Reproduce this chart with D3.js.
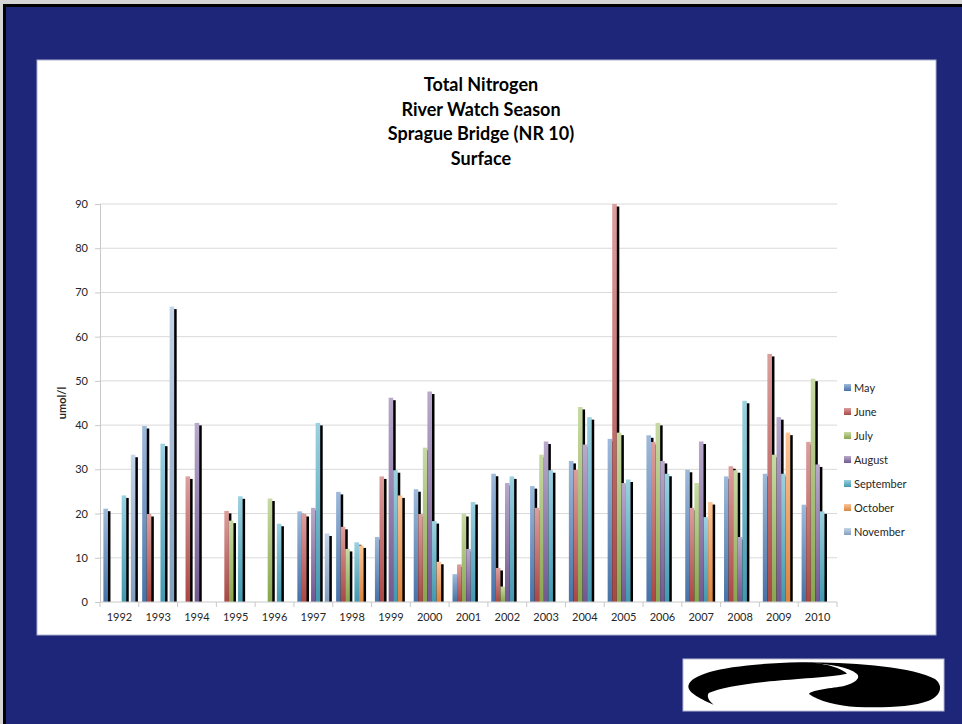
<!DOCTYPE html>
<html>
<head>
<meta charset="utf-8">
<script src="https://cdn.jsdelivr.net/npm/d3@7/dist/d3.min.js"></script>
<style>
  html, body { margin: 0; padding: 0; background: #d4d4d4; }
  svg { display: block; }
  text { font-family: Lato, "Open Sans", sans-serif; }
</style>
</head>
<body>
<svg id="chart" width="962" height="724"></svg>
<script>
// Total nitrogen (umol/l), River Watch season, Sprague Bridge (NR 10), surface samples
const years = ["1992","1993","1994","1995","1996","1997","1998","1999","2000","2001",
               "2002","2003","2004","2005","2006","2007","2008","2009","2010"];
const months = ["May","June","July","August","September","October","November"];

const may       = [21.1, 39.8, null, null, null, 20.5, 24.9, 14.7, 25.5, 6.3, 29.0, 26.2, 31.9, 36.9, 37.7, 29.9, 28.4, 29.0, 22.0];
const june      = [null, 19.9, 28.4, 20.6, null, 19.9, 17.0, 28.4, 19.9, 8.5, 7.7, 21.3, 29.9, 90.0, 36.2, 21.3, 30.7, 56.1, 36.2];
const july      = [null, null, null, 18.4, 23.4, null, 12.0, null, 34.9, 19.9, 3.5, 33.3, 44.1, 38.3, 40.5, 26.9, 29.8, 33.3, 50.5];
const august    = [null, null, 40.5, null, null, 21.3, null, 46.2, 47.6, 12.0, 26.9, 36.3, 35.6, 26.9, 31.9, 36.3, 14.7, 41.8, 31.1];
const september = [24.1, 35.8, null, 23.9, 17.7, 40.5, 13.5, 29.8, 18.3, 22.6, 28.4, 29.8, 41.8, 27.7, 29.0, 19.2, 45.5, 29.0, 20.5];
const october   = [null, null, null, null, null, null, 12.8, 24.1, 9.1, null, null, null, null, null, null, 22.6, null, 38.3, null];
const november  = [33.3, 66.8, null, null, null, 15.5, null, null, null, null, null, null, null, null, null, null, null, null, null];

const yTicks = [0,10,20,30,40,50,60,70,80,90];
const seriesValues = [may, june, july, august, september, october, november];
const seriesColors = ["#4F81BD","#C0504D","#9BBB59","#8064A2","#4BACC6","#F79646","#95B3D7"];

const svg = d3.select("#chart");

// slide frame
svg.append("rect").attr("x",3).attr("y",4).attr("width",959).attr("height",720).attr("fill","#000");
svg.append("rect").attr("x",6).attr("y",7).attr("width",956).attr("height",717).attr("fill","#1e267a");
// white chart panel
svg.append("rect").attr("x",37).attr("y",60).attr("width",899).attr("height",575)
  .attr("fill","#fff").attr("stroke","#aeb2cc").attr("stroke-width",1);

// gradients per month
const defs = svg.append("defs");
seriesColors.forEach((c, i) => {
  const g = defs.append("linearGradient").attr("id","grad"+i)
    .attr("x1",0).attr("y1",0).attr("x2",0).attr("y2",1);
  g.append("stop").attr("offset","0%").attr("stop-color", d3.interpolateRgb(c, "#fff")(0.45));
  g.append("stop").attr("offset","100%").attr("stop-color", d3.color(c).darker(0.35));
});

const margin = {left: 100, right: 837, top: 204, bottom: 602};
const x0 = d3.scaleBand().domain(years).range([margin.left, margin.right])
  .paddingInner(0.175).paddingOuter(0.0875);
const x1 = d3.scaleBand().domain(months).range([0, x0.bandwidth()]).padding(0);
const y = d3.scaleLinear().domain([0, 90]).range([margin.bottom, margin.top]);

// gridlines
svg.append("g").selectAll("line").data(yTicks.slice(1)).join("line")
  .attr("x1", margin.left).attr("x2", margin.right)
  .attr("y1", d => y(d)).attr("y2", d => y(d))
  .attr("stroke", "#d9d9d9").attr("stroke-width", 1);

// y axis
const yAxis = svg.append("g").attr("transform", `translate(${margin.left},0)`)
  .call(d3.axisLeft(y).tickValues(yTicks).tickSize(5).tickPadding(7));
yAxis.select(".domain").attr("stroke", "#c8c8c8");
yAxis.selectAll(".tick line").attr("stroke", "#c8c8c8");
yAxis.selectAll("text").attr("font-size", 11).attr("fill", "#262626")
  .attr("font-family", "Lato, 'Open Sans', sans-serif");

svg.append("text").attr("transform", "translate(66,403) rotate(-90)")
  .attr("text-anchor", "middle").attr("font-size", 11).attr("font-weight", "bold")
  .attr("fill", "#262626").text("umol/l");

// bars: each month draws its drop shadow and then its bar, so the next month covers the shadow
const gBars = svg.append("g");
seriesValues.forEach((vals, si) => {
  const data = years.map((yr, i) => ({year: yr, v: vals[i]})).filter(d => d.v != null);
  const g = gBars.append("g");
  g.selectAll("rect.sh").data(data).join("rect").attr("class","sh")
    .attr("x", d => x0(d.year) + x1(months[si]) + 2.5)
    .attr("y", d => y(d.v) + 2.5)
    .attr("width", x1.bandwidth())
    .attr("height", d => Math.max(0, y(0) - y(d.v) - 2.5))
    .attr("fill", "#000");
  g.selectAll("rect.bar").data(data).join("rect").attr("class","bar")
    .attr("x", d => x0(d.year) + x1(months[si]))
    .attr("y", d => y(d.v))
    .attr("width", x1.bandwidth())
    .attr("height", d => y(0) - y(d.v))
    .attr("fill", `url(#grad${si})`);
});

// x axis
const xAxisG = svg.append("g").attr("transform", `translate(0,${margin.bottom})`);
xAxisG.append("line").attr("x1", margin.left).attr("x2", margin.right)
  .attr("y1", 0).attr("y2", 0).attr("stroke", "#c8c8c8");
const step = x0.step();
const boundaries = d3.range(years.length + 1).map(i => margin.left + i * step);
xAxisG.selectAll("line.tk").data(boundaries).join("line").attr("class","tk")
  .attr("x1", d => d).attr("x2", d => d).attr("y1", 0).attr("y2", 5).attr("stroke", "#c8c8c8");
xAxisG.selectAll("text").data(years).join("text")
  .attr("x", d => x0(d) + x0.bandwidth() / 2).attr("y", 19)
  .attr("text-anchor", "middle").attr("font-size", 11).attr("fill", "#262626").text(d => d);

// title
const titleLines = ["Total Nitrogen", "River Watch Season", "Sprague Bridge (NR 10)", "Surface"];
svg.append("g").selectAll("text").data(titleLines).join("text")
  .attr("x", 481).attr("y", (d, i) => 91 + i * 24.5)
  .attr("text-anchor", "middle").attr("font-size", 18).attr("font-weight", "bold")
  .attr("fill", "#000").text(d => d);

// legend
const legend = svg.append("g").attr("transform", "translate(844,388)");
const li = legend.selectAll("g").data(months).join("g")
  .attr("transform", (d, i) => `translate(0,${i * 24})`);
li.append("rect").attr("x", 0).attr("y", -4).attr("width", 7).attr("height", 7)
  .attr("fill", (d, i) => `url(#grad${i})`);
li.append("text").attr("x", 10).attr("y", 4).attr("font-size", 11).attr("fill", "#262626").text(d => d);

// logo
const logo = svg.append("g").attr("transform", "translate(683,659)");
logo.append("rect").attr("width", 261).attr("height", 52).attr("fill", "#fff")
  .attr("stroke", "#b8bcd6").attr("stroke-width", 1);
logo.append("path").attr("fill", "#000")
  .attr("d", "M30.7,45.7 C18,40 3,33 5.7,25.7 C10,14 45,5 117,3.3 C140,3 158,9 164,14.7 C150,18 110,20 87,22.3 C60,25 36,29 25.7,34 C23,38 27,43 30.7,45.7 Z");
logo.append("path").attr("fill", "#000")
  .attr("d", "M122,3.5 C170,3 230,8 252,20 C262,28 256,38 245,42 C230,48 200,49 174,48 C155,47 135,42 126,35 C128,31 150,29 161,27 C172,24 178,19 174,15 C166,8 148,5 122,3.5 Z");
</script>
</body>
</html>
